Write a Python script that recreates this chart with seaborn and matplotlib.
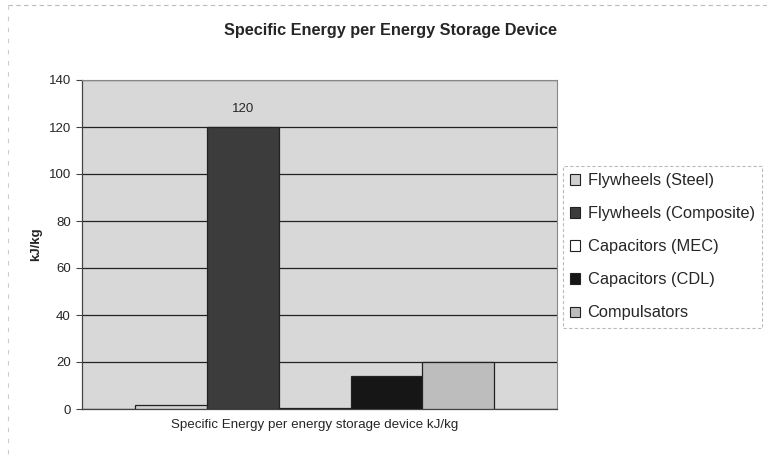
import matplotlib
matplotlib.use("Agg")
import matplotlib.pyplot as plt
import seaborn as sns
import pandas as pd
from matplotlib.patches import Patch

# Data
group_label = "Specific Energy per energy storage device kJ/kg"
devices = ["Flywheels (Steel)", "Flywheels (Composite)", "Capacitors (MEC)",
           "Capacitors (CDL)", "Compulsators"]
energy_kj_per_kg = [1.5, 120, 0.5, 14, 20]
colors = ["#cfcfcf", "#3c3c3c", "#ffffff", "#161616", "#bdbdbd"]
yticks = [0, 20, 40, 60, 80, 100, 120, 140]

df = pd.DataFrame({"group": [group_label] * len(devices),
                   "device": devices,
                   "value": energy_kj_per_kg})

sns.set_theme(style="white")
plt.rcParams["font.family"] = ["Liberation Sans", "DejaVu Sans"]

fig = plt.figure(figsize=(7.67, 4.55), dpi=100)
fig.patch.set_facecolor("white")
ax = fig.add_axes([82 / 767, 46 / 455, 475 / 767, 329 / 455])
ax.set_facecolor("#d8d8d8")

sns.barplot(data=df, x="group", y="value", hue="device", hue_order=devices,
            palette=colors, width=0.755, edgecolor="#222222", linewidth=0.9,
            legend=False, ax=ax, zorder=3)

ax.set_ylim(0, 140)
ax.set_yticks(yticks)
ax.set_xlim(-0.49, 0.51)
ax.yaxis.grid(True, color="#222222", linewidth=0.9, zorder=1)
ax.set_axisbelow(True)
for s in ["top", "right"]:
    ax.spines[s].set_color("#888888")
    ax.spines[s].set_linewidth(0.8)
for s in ["left", "bottom"]:
    ax.spines[s].set_color("#444444")
    ax.spines[s].set_linewidth(0.9)

ax.tick_params(axis="y", length=4, width=0.8, color="#444444", labelsize=9.5,
               pad=4, left=True)
ax.tick_params(axis="x", length=0, labelsize=9.6, pad=7)
ax.set_xlabel("")
ax.set_ylabel("kJ/kg", fontsize=9.5, fontweight="bold", labelpad=5)

# Value label on the tallest bar
bars = [p for p in ax.patches]
peak = max(range(len(energy_kj_per_kg)), key=lambda i: energy_kj_per_kg[i])
pb = bars[peak]
ax.text(pb.get_x() + pb.get_width() / 2, energy_kj_per_kg[peak] + 5,
        f"{energy_kj_per_kg[peak]:g}", ha="center", va="bottom", fontsize=9.5)

fig.text(0.5 * (223 + 558) / 767, 1 - 30 / 455,
         "Specific Energy per Energy Storage Device",
         ha="center", va="center", fontsize=11.7, fontweight="bold")

handles = [Patch(facecolor=c, edgecolor="#222222", linewidth=0.8) for c in colors]
leg = fig.legend(handles, devices, loc="upper left",
                 bbox_to_anchor=(563 / 767, 1 - 166 / 455),
                 fontsize=11.8, frameon=True, fancybox=False,
                 handlelength=0.6, handleheight=0.6, handletextpad=0.45,
                 labelspacing=1.1, borderpad=0.45, borderaxespad=0)
frame = leg.get_frame()
frame.set_edgecolor("#aaaaaa")
frame.set_linestyle((0, (3, 2)))
frame.set_linewidth(0.8)

# Dashed outer chart border
fig.add_artist(plt.Line2D([8 / 767, 1.0], [1 - 5 / 455, 1 - 5 / 455],
                          transform=fig.transFigure, color="#bbbbbb",
                          linewidth=0.8, linestyle=(0, (4, 3))))
fig.add_artist(plt.Line2D([8 / 767, 8 / 767], [1 - 5 / 455, 0.0],
                          transform=fig.transFigure, color="#cccccc",
                          linewidth=0.8, linestyle=(0, (4, 6))))

fig.savefig("out.png", dpi=100)
